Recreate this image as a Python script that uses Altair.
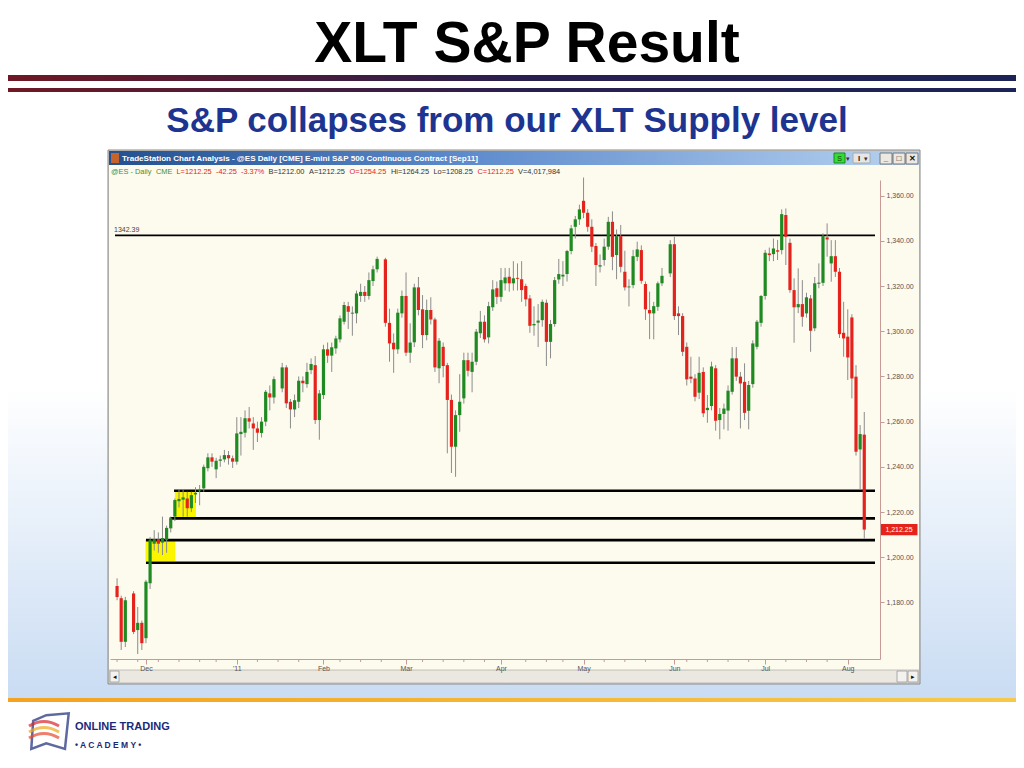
import json
import altair as alt
import pandas as pd

# ---------------- data ----------------
# daily bars, one slot per session; None = empty slot (holiday)
OPEN = [1187.3, 1181.9, 1162.6, None, 1184.0, 1167.8, 1171.0, 1164.2, 1188.5, 1206.0,
        1208.0, 1206.5, 1207.6, 1212.8, 1218.0, 1224.8, 1225.5, 1226.0, 1221.7, 1227.8,
        1229.5, 1230.5, 1239.4, 1244.2, 1238.9, 1242.7, 1243.3, 1245.2, 1243.8, 1242.3,
        1254.5, 1255.1, 1261.5, 1259.2, 1257.0, 1255.0, 1260.0, 1272.5, 1270.7, None,
        1274.7, 1284.0, 1268.8, 1265.4, 1268.8, 1278.1, 1276.6, 1282.8, 1285.0, 1260.7,
        1271.8, 1292.0, 1289.2, 1292.4, 1296.4, 1304.2, 1311.1, 1307.8, 1307.9, 1315.6,
        1317.4, 1315.6, 1322.2, 1327.4, None, 1331.8, 1303.7, 1294.9, 1292.0, 1307.9,
        1315.6, 1290.5, 1295.1, 1319.4, 1309.7, 1298.3, 1309.4, 1305.2, 1283.6, 1293.1,
        1285.0, 1269.6, 1248.9, 1262.9, 1270.3, 1287.2, 1282.0, 1286.5, 1299.1, 1304.2,
        1297.3, 1310.6, 1319.0, 1315.2, 1321.2, 1324.1, 1321.2, 1323.6, 1323.0, 1320.0,
        1314.5, 1302.6, 1303.8, 1304.9, 1312.6, 1295.3, 1303.2, 1322.9, 1324.2, 1325.3,
        1335.5, 1346.2, 1349.5, 1357.7, 1352.4, 1346.2, 1337.7, 1328.6, 1331.5, 1337.4,
        1348.4, 1333.7, 1342.1, 1326.3, 1319.4, 1320.4, 1332.9, 1335.9, 1320.9, 1309.4,
        1307.9, 1310.8, 1321.2, None, 1325.6, 1338.5, 1307.9, 1306.7, 1293.1, 1279.9,
        1279.1, 1272.8, 1282.0, 1265.1, 1266.9, 1283.6, 1260.7, 1263.4, 1264.9, 1273.2,
        1288.0, 1279.9, 1277.6, 1264.8, 1276.6, 1293.1, 1303.7, 1315.6, 1334.4, 1334.1,
        1335.8, 1335.9, 1351.4, 1339.1, 1318.2, 1310.6, 1312.0, 1307.9, 1314.5, 1301.3,
        1321.0, 1321.4, 1341.5, 1330.0, 1333.2, 1326.3, 1299.3, 1297.6, 1306.1, 1279.9,
        1247.7, 1254.25]
HIGH = [1190.7, 1183.0, 1182.5, None, 1185.0, 1178.0, 1172.0, 1190.0, 1209.0, 1212.0,
        1211.0, 1218.0, 1214.0, 1218.0, 1226.0, 1230.0, 1230.0, 1229.0, 1229.0, 1231.0,
        1232.0, 1241.0, 1246.0, 1246.0, 1244.0, 1245.0, 1247.5, 1247.0, 1245.0, 1262.0,
        1262.0, 1265.0, 1266.5, 1262.0, 1260.0, 1262.0, 1274.0, 1276.0, 1280.0, None,
        1286.0, 1285.0, 1270.0, 1272.0, 1280.0, 1280.0, 1286.0, 1288.0, 1289.0, 1274.0,
        1294.0, 1295.0, 1295.0, 1298.0, 1307.0, 1313.0, 1313.0, 1311.0, 1318.0, 1321.0,
        1320.0, 1326.0, 1329.0, 1333.0, None, 1332.5, 1310.0, 1299.0, 1310.0, 1318.0,
        1326.0, 1303.5, 1321.0, 1324.0, 1316.0, 1314.0, 1315.0, 1306.0, 1297.0, 1295.0,
        1286.0, 1272.0, 1265.0, 1281.0, 1290.5, 1290.5, 1290.5, 1301.0, 1309.0, 1307.0,
        1313.0, 1322.6, 1322.0, 1328.0, 1328.0, 1328.0, 1331.0, 1330.0, 1331.0, 1321.0,
        1316.0, 1311.0, 1312.0, 1314.0, 1314.0, 1305.0, 1324.0, 1332.0, 1331.0, 1336.0,
        1347.0, 1351.0, 1356.0, 1368.0, 1354.0, 1349.5, 1339.0, 1334.0, 1341.0, 1350.6,
        1353.0, 1345.0, 1347.0, 1335.6, 1323.0, 1336.0, 1339.6, 1338.0, 1322.0, 1317.5,
        1313.0, 1322.0, 1328.0, None, 1340.3, 1341.8, 1311.0, 1308.0, 1295.0, 1288.7,
        1281.0, 1288.7, 1284.0, 1271.8, 1286.5, 1285.0, 1266.0, 1268.0, 1276.0, 1293.0,
        1293.0, 1282.0, 1285.8, 1278.0, 1296.0, 1305.0, 1316.0, 1336.0, 1337.0, 1341.0,
        1340.4, 1353.9, 1354.3, 1341.0, 1323.4, 1327.8, 1322.6, 1317.0, 1316.0, 1324.0,
        1330.0, 1343.3, 1347.7, 1340.3, 1340.3, 1328.0, 1313.0, 1309.7, 1307.5, 1285.0,
        1258.5, 1264.25]
LOW = [1181.0, 1159.0, 1160.3, None, 1166.0, 1157.2, 1159.0, 1162.0, 1186.0, 1203.0,
       1202.0, 1201.0, 1202.0, 1211.0, 1216.0, 1222.0, 1218.0, 1218.0, 1220.0, 1224.0,
       1223.0, 1229.0, 1238.0, 1240.0, 1235.0, 1240.0, 1242.0, 1241.0, 1239.5, 1241.0,
       1245.0, 1253.0, 1257.0, 1247.5, 1251.0, 1253.0, 1258.0, 1265.0, 1268.0, None,
       1273.0, 1266.0, 1257.0, 1262.0, 1266.0, 1273.0, 1275.0, 1281.0, 1259.0, 1252.0,
       1270.0, 1286.0, 1282.0, 1290.0, 1295.0, 1303.0, 1301.0, 1298.0, 1303.5, 1313.0,
       1313.0, 1314.0, 1320.0, 1326.0, None, 1302.0, 1286.5, 1281.6, 1290.0, 1306.0,
       1289.0, 1286.0, 1293.0, 1307.0, 1292.5, 1296.0, 1303.0, 1282.0, 1277.0, 1279.6,
       1246.0, 1237.3, 1235.6, 1255.5, 1268.0, 1280.0, 1273.0, 1285.0, 1297.0, 1295.0,
       1294.6, 1309.0, 1312.0, 1313.0, 1318.0, 1317.5, 1318.0, 1318.0, 1313.0, 1311.0,
       1299.3, 1298.0, 1293.0, 1302.0, 1284.6, 1288.0, 1302.0, 1321.0, 1320.0, 1322.0,
       1334.0, 1341.0, 1347.0, 1350.0, 1344.0, 1335.0, 1320.0, 1326.0, 1329.0, 1336.0,
       1327.0, 1323.0, 1326.0, 1318.0, 1311.0, 1319.0, 1331.0, 1321.0, 1305.0, 1296.5,
       1296.4, 1309.0, 1320.0, None, 1324.0, 1305.0, 1298.3, 1289.0, 1276.0, 1277.0,
       1269.0, 1270.0, 1262.0, 1259.5, 1265.0, 1256.0, 1252.2, 1256.6, 1256.0, 1272.0,
       1278.0, 1257.0, 1260.7, 1256.6, 1275.0, 1292.0, 1302.0, 1314.0, 1331.0, 1331.0,
       1331.5, 1334.0, 1329.3, 1317.0, 1294.9, 1308.0, 1302.0, 1306.0, 1290.9, 1300.0,
       1319.0, 1320.0, 1333.0, 1321.9, 1324.0, 1297.0, 1288.7, 1278.4, 1270.3, 1245.0,
       1229.8, 1208.25]
CLOSE = [1182.4, 1162.6, 1181.0, None, 1167.0, 1171.0, 1162.0, 1189.2, 1207.6, 1208.0,
         1206.0, 1208.5, 1213.0, 1217.2, 1225.3, 1225.8, 1226.5, 1221.7, 1227.5, 1228.5,
         1230.0, 1240.0, 1244.2, 1242.3, 1242.7, 1243.3, 1245.2, 1243.8, 1242.3, 1254.8,
         1255.5, 1261.5, 1260.0, 1257.0, 1255.1, 1260.0, 1273.2, 1270.7, 1278.8, None,
         1284.0, 1268.1, 1265.4, 1269.5, 1278.1, 1277.0, 1282.0, 1285.5, 1260.7, 1272.5,
         1292.0, 1289.2, 1292.9, 1296.8, 1305.7, 1311.6, 1308.6, 1308.2, 1316.7, 1317.4,
         1315.6, 1322.6, 1327.4, 1332.0, None, 1303.7, 1294.6, 1292.0, 1308.2, 1315.6,
         1290.5, 1295.0, 1319.4, 1309.4, 1298.3, 1309.4, 1305.2, 1284.0, 1295.8, 1284.6,
         1269.6, 1248.9, 1262.9, 1268.8, 1287.2, 1282.5, 1286.5, 1299.8, 1304.2, 1296.4,
         1311.1, 1318.5, 1315.2, 1322.6, 1323.8, 1321.2, 1323.4, 1323.2, 1318.2, 1314.1,
         1302.4, 1303.2, 1304.7, 1313.0, 1295.3, 1303.2, 1322.6, 1325.3, 1325.0, 1335.5,
         1345.5, 1349.5, 1353.9, 1352.4, 1346.2, 1337.4, 1329.3, 1329.2, 1337.4, 1348.4,
         1332.9, 1342.1, 1328.5, 1319.4, 1319.8, 1333.2, 1336.2, 1322.3, 1309.7, 1307.9,
         1311.1, 1321.2, 1324.5, None, 1338.5, 1306.7, 1306.7, 1290.9, 1278.7, 1279.0,
         1271.0, 1281.6, 1263.7, 1266.1, 1284.4, 1260.4, 1263.4, 1265.8, 1273.7, 1288.0,
         1279.9, 1276.9, 1263.9, 1276.2, 1294.6, 1304.2, 1315.6, 1334.7, 1333.7, 1336.6,
         1335.2, 1351.8, 1341.8, 1318.2, 1310.6, 1312.0, 1306.4, 1315.0, 1300.2, 1321.2,
         1321.5, 1342.1, 1340.6, 1333.2, 1326.3, 1298.7, 1296.8, 1288.4, 1279.1, 1246.7,
         1254.5, 1212.25]

MONTH_LABELS = ["Dec", "'11", "Feb", "Mar", "Apr", "May", "Jun", "Jul", "Aug"]
MONTH_START_SLOT = [7, 29, 50, 70, 93, 113, 135, 157, 177]
WEEK_START_SLOT = [0, 5, 10, 15, 20, 24, 34, 39, 44, 54, 59, 64, 74, 79, 84, 89, 99,
                   104, 108, 118, 123, 128, 138, 143, 148, 153, 162, 167, 172]
PRICE_TICKS = [1180, 1200, 1220, 1240, 1260, 1280, 1300, 1320, 1340, 1360]

# horizontal levels drawn on the chart (price, first slot, last slot)
LEVEL_PRICE = [1342.39, 1229.45, 1217.2, 1207.6, 1197.6]
LEVEL_FROM = [-0.5, 13.8, 12.75, 7.0, 7.0]
LEVEL_TO = [183.6, 183.6, 183.6, 183.6, 183.6]
LEVEL_WIDTH = [1.6, 2.6, 2.6, 2.6, 2.6]

# yellow highlighted zones (slot range, price range)
ZONE_FROM = [6.9, 14.0]
ZONE_TO = [14.1, 19.1]
ZONE_LO = [1198.3, 1217.7]
ZONE_HI = [1207.6, 1229.4]

INFO_TEXT = ["@ES - Daily", "CME", "L=1212.25", "-42.25", "-3.37%", "B=1212.00",
             "A=1212.25", "O=1254.25", "Hi=1264.25", "Lo=1208.25", "C=1212.25",
             "V=4,017,984"]

# ---------------- tables ----------------
rows = []
for i, (o, h, l, c) in enumerate(zip(OPEN, HIGH, LOW, CLOSE)):
    if o is None:
        continue
    rows.append({"slot": i, "o": o, "h": h, "l": l, "c": c,
                 "dir": "up" if c >= o else "down"})
bars = pd.DataFrame(rows)
last = bars.tail(1)
levels = pd.DataFrame({"p": LEVEL_PRICE, "x0": LEVEL_FROM, "x1": LEVEL_TO, "w": LEVEL_WIDTH})
zones = pd.DataFrame({"x0": ZONE_FROM, "x1": ZONE_TO, "lo": ZONE_LO, "hi": ZONE_HI})
weeks = pd.DataFrame({"slot": WEEK_START_SLOT})
one = pd.DataFrame({"k": [0]})

W, H = 1008, 752
FONT = "Liberation Sans"
GREEN = "#1f8a22"
RED = "#e5231d"
AXIS_C = "#c79a96"

labels_js = "[" + ",".join(json.dumps(s) for s in MONTH_LABELS) + "]"
slots_js = "[" + ",".join(str(v) for v in MONTH_START_SLOT) + "]"

xscale = alt.Scale(domain=[-0.5, 183.6], range=[102, 872], nice=False, zero=False)
yscale = alt.Scale(domain=[1155, 1366.9], range=[651, 172], nice=False, zero=False)
xaxis = alt.Axis(orient="bottom", offset=-101, values=MONTH_START_SLOT,
                 labelExpr=f"{labels_js}[indexof({slots_js}, datum.value)]",
                 grid=False, title=None, domainColor=AXIS_C, tickColor=AXIS_C,
                 tickSize=5, labelFontSize=7, labelColor="#555555", labelFont=FONT,
                 labelPadding=0, labelOverlap=False, labelFlush=False, zindex=1)
yaxis = alt.Axis(orient="right", offset=-136, values=PRICE_TICKS, format=",.2f",
                 grid=False, title=None, domainColor=AXIS_C, tickColor=AXIS_C,
                 tickSize=4, labelFontSize=7, labelColor="#555555", labelFont=FONT,
                 labelPadding=2, zindex=1)


def X(f):
    return alt.X(f, type="quantitative", scale=xscale, axis=xaxis)


def Y(f):
    return alt.Y(f, type="quantitative", scale=yscale, axis=yaxis)


def rect(x0, x1, y0, y1, **kw):
    return alt.Chart(one).mark_rect(**kw).encode(
        x=alt.value(x0), x2=alt.value(x1), y=alt.value(y0), y2=alt.value(y1))


def text(x, y, s, **kw):
    kw.setdefault("font", FONT)
    return alt.Chart(one).mark_text(text=s, **kw).encode(x=alt.value(x), y=alt.value(y))


layers = []
# slide background with soft blue bottom
layers.append(rect(0, W, 0, H, color="white"))
layers.append(rect(0, W, 380, 692, color=alt.LinearGradient(
    gradient="linear", x1=0, x2=0, y1=0, y2=1,
    stops=[alt.GradientStop(color="#ffffff", offset=0),
           alt.GradientStop(color="#c9dcf3", offset=1)])))
# header rules
bar_grad = alt.LinearGradient(gradient="linear", x1=0, x2=1, y1=0, y2=0,
                              stops=[alt.GradientStop(color="#6e1824", offset=0),
                                     alt.GradientStop(color="#2a1f4e", offset=0.5),
                                     alt.GradientStop(color="#1c2357", offset=1)])
layers.append(rect(0, W, 67, 73, color=bar_grad))
layers.append(rect(0, W, 80, 84, color=bar_grad))
# titles
layers.append(text(519, 54, "XLT S&P Result", fontSize=57, fontWeight="bold",
                   color="#000000", align="center", baseline="alphabetic"))
layers.append(text(499, 124, "S&P collapses from our XLT Supply level", fontSize=35,
                   fontWeight="bold", color="#1d3590", align="center", baseline="alphabetic"))
# bottom orange rule
layers.append(rect(0, W, 690, 694, color=alt.LinearGradient(
    gradient="linear", x1=0, x2=1, y1=0, y2=0,
    stops=[alt.GradientStop(color="#f3a31f", offset=0),
           alt.GradientStop(color="#f7c948", offset=1)])))
# logo (simplified)
layers.append(alt.Chart(one).mark_point(
    shape="M-0.2,-0.9 L1,-1 L0.8,0.9 L-0.2,0.6 L-1,0.9 L-0.9,-0.6 Z",
    size=1400, filled=False, stroke="#1b2a78", strokeWidth=2.5).encode(
    x=alt.value(42), y=alt.value(724)))
for dy, col in [(-6, "#d8262f"), (0, "#f0a81c"), (6, "#e84a2e")]:
    layers.append(alt.Chart(one).mark_point(
        shape="M-1,0 Q0,-0.6 1,0", size=900, filled=False, stroke=col,
        strokeWidth=3).encode(x=alt.value(36), y=alt.value(724 + dy)))
layers.append(text(67, 719, "ONLINE TRADING", fontSize=11, fontWeight="bold",
                   color="#1b2a78", align="left", baseline="middle"))
layers.append(text(67, 737, "\u2022  A C A D E M Y  \u2022", fontSize=8.5, fontWeight="bold",
                   color="#1b2a78", align="left", baseline="middle"))

# window frame
layers.append(rect(100, 912, 142, 676, color="#d4d0c8", stroke="#8a8a8a", strokeWidth=1))
layers.append(rect(101, 911, 143, 157, color=alt.LinearGradient(
    gradient="linear", x1=0, x2=1, y1=0, y2=0,
    stops=[alt.GradientStop(color="#23508f", offset=0),
           alt.GradientStop(color="#5f8ccd", offset=0.45),
           alt.GradientStop(color="#b7d2f0", offset=1)])))
layers.append(rect(103, 111, 145, 155, color="#c6622b"))
layers.append(text(114, 150.5, "TradeStation Chart Analysis - @ES Daily [CME] E-mini S&P 500 "
                   "Continuous Contract [Sep11]", fontSize=8.1, fontWeight="bold",
                   color="white", align="left", baseline="middle"))
layers.append(rect(826, 837, 145, 155, color="#33dd33", stroke="#1a8a1a"))
layers.append(text(831.5, 150.5, "S", fontSize=7, color="#0a4a0a", align="center",
                   baseline="middle"))
layers.append(text(840, 150.5, "\u25be", fontSize=7, color="#333", align="center",
                   baseline="middle"))
layers.append(rect(845, 862, 145, 155, color="#e6e6e6", stroke="#aaaaaa"))
layers.append(text(851, 150.5, "I", fontSize=8, fontWeight="bold", color="#222",
                   align="center", baseline="middle"))
layers.append(text(857.5, 150.5, "\u25be", fontSize=7, color="#333", align="center",
                   baseline="middle"))
for bx, glyph in [(872, "_"), (885, "\u25a1"), (898, "\u2715")]:
    layers.append(rect(bx, bx + 12, 145, 156, color="#ece9e2", stroke="#777777"))
    layers.append(text(bx + 6, 150.5, glyph, fontSize=8, fontWeight="bold", color="#111",
                       align="center", baseline="middle"))
# chart area
layers.append(rect(101, 911, 157, 662, color="#fdfaee"))
layers.append(rect(101, 911, 662, 675, color="#ebe8e2", stroke="#b5b2ac", strokeWidth=0.8))
layers.append(rect(102, 111, 663, 674, color="#f4f2ee", stroke="#9a9a9a", strokeWidth=0.8))
layers.append(text(106.5, 668.5, "\u25c2", fontSize=7, color="#111", align="center",
                   baseline="middle"))
layers.append(rect(889, 899, 663, 674, color="#f4f2ee", stroke="#9a9a9a", strokeWidth=0.8))
layers.append(rect(900, 910, 663, 674, color="#f4f2ee", stroke="#9a9a9a", strokeWidth=0.8))
layers.append(text(905, 668.5, "\u25b8", fontSize=7, color="#111", align="center",
                   baseline="middle"))
# info line
info_x = [103, 148, 168.5, 208, 233, 260.5, 301, 341.5, 383, 425.5, 469.5, 510]
info_c = ["#3d8f3d", "#3d8f3d", RED, RED, RED, "#333333", "#333333", RED,
          "#333333", "#333333", RED, "#333333"]
for tx, tc, tt in zip(info_x, info_c, INFO_TEXT):
    layers.append(text(tx, 164, tt, fontSize=7.4, color=tc, align="left", baseline="middle"))

# weekly minor ticks on the time axis
layers.append(alt.Chart(weeks).mark_rule(color=AXIS_C, strokeWidth=1).encode(
    x=X("slot"), y=alt.value(651), y2=alt.value(654)))
# highlighted zones
layers.append(alt.Chart(zones).mark_rect(color="#fbf500").encode(
    x=X("x0"), x2="x1", y=Y("lo"), y2="hi"))
# levels
layers.append(alt.Chart(levels).mark_rule(color="#000000").encode(
    x=X("x0"), x2="x1", y=Y("p"), strokeWidth=alt.StrokeWidth("w:Q", scale=None)))
layers.append(alt.Chart(levels.head(1)).mark_text(
    font=FONT, fontSize=7, color="#444444", align="left", baseline="bottom", dy=-2,
    dx=-1).encode(x=X("x0"), y=Y("p"), text=alt.Text("p:Q", format=".2f")))
# candles
layers.append(alt.Chart(bars).mark_rule(color="#8c8c8c", strokeWidth=1).encode(
    x=X("slot"), y=Y("l"), y2="h"))
layers.append(alt.Chart(bars).mark_bar(size=3.2).encode(
    x=X("slot"), y=Y("o"), y2="c",
    color=alt.Color("dir:N", scale=alt.Scale(domain=["up", "down"], range=[GREEN, RED]),
                    legend=None)))
# last price tag
layers.append(alt.Chart(last).mark_point(
    shape="M-1,-0.3 L1,-0.3 L1,0.3 L-1,0.3 Z", size=1369, filled=True, color=RED,
    opacity=1).encode(x=alt.value(891), y=Y("c")))
layers.append(alt.Chart(last).mark_text(font=FONT, fontSize=7, color="white",
                                        align="center", baseline="middle").encode(
    x=alt.value(891), y=Y("c"), text=alt.Text("c:Q", format=",.2f")))

chart = alt.layer(*layers).properties(
    width=W, height=H, autosize=alt.AutoSizeParams(type="none"), padding=0
).configure_view(stroke=None).configure(background="white")

chart.save("out.html", embed_options={"renderer": "svg", "actions": False})
